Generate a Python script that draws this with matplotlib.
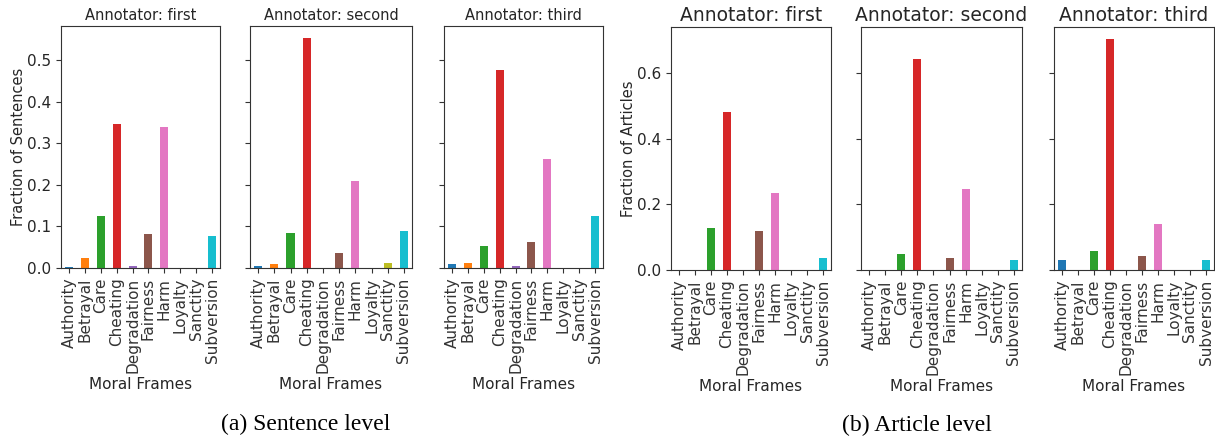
import matplotlib
matplotlib.use("Agg")
import matplotlib.pyplot as plt

plt.rcParams['font.family'] = ['DejaVu Sans']

frames = ["Authority", "Betrayal", "Care", "Cheating", "Degradation",
          "Fairness", "Harm", "Loyalty", "Sanctity", "Subversion"]
annotators = ["first", "second", "third"]

# fraction of sentences per moral frame
sent_first = [0.003, 0.025, 0.125, 0.347, 0.004, 0.081, 0.339, 0.0, 0.0, 0.078]
sent_second = [0.006, 0.010, 0.083, 0.554, 0.0, 0.037, 0.210, 0.0, 0.011, 0.089]
sent_third = [0.009, 0.013, 0.053, 0.476, 0.004, 0.062, 0.263, 0.0, 0.0, 0.125]

# fraction of articles per moral frame
art_first = [0.0, 0.0, 0.129, 0.482, 0.0, 0.118, 0.235, 0.0, 0.0, 0.038]
art_second = [0.0, 0.0, 0.048, 0.643, 0.0, 0.038, 0.246, 0.0, 0.0, 0.030]
art_third = [0.030, 0.0, 0.057, 0.705, 0.0, 0.044, 0.141, 0.0, 0.0, 0.030]

colors = plt.rcParams['axes.prop_cycle'].by_key()['color']
text_col = '#262626'

W, H = 1215, 441
fig = plt.figure(figsize=(W / 100, H / 100), dpi=100)


def px_axes(x0, x1, ytop, ybot, sharey=None):
    return fig.add_axes([x0 / W, 1 - ybot / H, (x1 - x0) / W, (ybot - ytop) / H],
                        sharey=sharey)


def draw_panel(ax, values, name, title_size, ylabel=None):
    ax.bar(range(len(frames)), values, width=0.5, color=colors)
    ax.set_xlim(-0.5, len(frames) - 0.5)
    ax.set_xticks(range(len(frames)))
    ax.set_xticklabels(frames, rotation=90, fontsize=11, color=text_col)
    ax.tick_params(axis='y', labelsize=11, labelcolor=text_col, colors='#333333')
    ax.tick_params(axis='x', colors='#333333')
    ax.set_title("Annotator: " + name, fontsize=title_size, color=text_col, pad=4)
    ax.set_xlabel("Moral Frames", fontsize=11, color=text_col, labelpad=3)
    if ylabel:
        ax.set_ylabel(ylabel, fontsize=10.5, color=text_col, labelpad=1)
    else:
        plt.setp(ax.get_yticklabels(), visible=False)
    for s in ax.spines.values():
        s.set_color('#333333')


# (a) sentence level
sent_pos = [(61, 220), (250, 412), (444, 603)]
sent_vals = [sent_first, sent_second, sent_third]
ax0 = None
for i, (x0, x1) in enumerate(sent_pos):
    ax = px_axes(x0, x1, 26, 268, sharey=ax0)
    if ax0 is None:
        ax0 = ax
    draw_panel(ax, sent_vals[i], annotators[i], 10.5,
               "Fraction of Sentences" if i == 0 else None)
ax0.set_yticks([0.0, 0.1, 0.2, 0.3, 0.4, 0.5])

# (b) article level
art_pos = [(671, 831), (861, 1022), (1054, 1214)]
art_vals = [art_first, art_second, art_third]
ax1 = None
for i, (x0, x1) in enumerate(art_pos):
    ax = px_axes(x0, x1, 27, 270, sharey=ax1)
    if ax1 is None:
        ax1 = ax
    draw_panel(ax, art_vals[i], annotators[i], 13.5,
               "Fraction of Articles" if i == 0 else None)
ax1.set_yticks([0.0, 0.2, 0.4, 0.6])

fig.text(306 / W, 1 - 424 / H, "(a) Sentence level", ha='center', va='center',
         fontsize=17, family='Liberation Serif')
fig.text(917 / W, 1 - 425 / H, "(b) Article level", ha='center', va='center',
         fontsize=17, family='Liberation Serif')

fig.savefig("out.png", dpi=100)
